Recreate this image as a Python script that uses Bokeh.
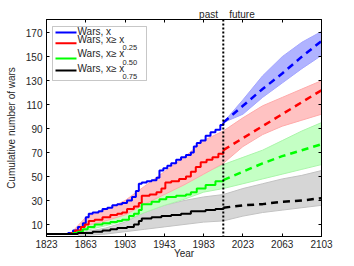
from bokeh.plotting import figure
from bokeh.models import Range1d, FixedTicker, LinearAxis, Span, Label, BoxAnnotation
from bokeh.embed import file_html
from bokeh.resources import INLINE

# ---------------- data ----------------
x_ticks = [1823, 1863, 1903, 1943, 1983, 2023, 2063, 2103]
y_ticks = [10, 30, 50, 70, 90, 110, 130, 150, 170]
split_year = 2003
era_labels = {1988: "past", 2022: "future"}

# observed cumulative counts (step curves, past)
blue_years = [1823, 1845, 1850, 1855, 1860, 1863, 1866, 1870, 1876, 1880, 1885, 1890, 1895,
              1900, 1905, 1910, 1914, 1917, 1920, 1925, 1930, 1935, 1938, 1942, 1946, 1950,
              1955, 1960, 1965, 1970, 1973, 1976, 1980, 1985, 1990, 1995, 2000, 2003]
blue_vals = [2, 3, 5, 8, 11, 16, 19, 20, 21, 23, 24, 26, 27, 28, 30, 33, 38, 44, 45, 46, 47,
             49, 55, 57, 59, 61, 64, 66, 68, 70, 75, 78, 80, 84, 87, 89, 93, 95]

red_years = [1823, 1848, 1852, 1858, 1862, 1866, 1872, 1880, 1888, 1895, 1900, 1905, 1912,
             1917, 1920, 1928, 1935, 1940, 1944, 1950, 1958, 1965, 1970, 1975, 1980, 1986,
             1992, 1998, 2003]
red_vals = [2, 3, 5, 8, 10, 13, 14, 16, 18, 19, 20, 23, 25, 28, 34, 35, 37, 40, 45, 46, 48,
            50, 54, 58, 62, 64, 66, 69, 72]

green_years = [1823, 1850, 1855, 1860, 1865, 1872, 1880, 1888, 1895, 1900, 1907, 1912, 1917,
               1920, 1930, 1938, 1945, 1955, 1965, 1970, 1976, 1985, 1995, 2003]
green_vals = [2, 3, 4, 6, 8, 10, 11, 12, 13, 14, 17, 19, 22, 27, 29, 31, 33, 34, 35, 37, 40,
              43, 46, 47]

black_years = [1823, 1855, 1862, 1870, 1880, 1888, 1895, 1905, 1912, 1917, 1920, 1930, 1940,
               1950, 1960, 1970, 1985, 1995, 2003]
black_vals = [2, 3, 3, 4, 5, 6, 7, 8, 10, 13, 15, 16, 17, 18, 19, 21, 22, 23, 24]

# projected means (dashed, future)
proj_years = [2003, 2023, 2043, 2063, 2083, 2103]
blue_proj = [95, 109, 123, 136, 150, 163]
red_proj = [72, 82, 92, 102, 112, 122]
green_proj = [47, 54, 61, 67, 72, 77]
black_proj = [24, 26, 27, 29, 30, 32]

# envelopes of the simulated trajectories
blue_env_years = [2003, 2023, 2043, 2063, 2083, 2103]
blue_env_lo = [95, 102, 116, 128, 140, 151]
blue_env_hi = [95, 114, 134, 150, 162, 171]

red_env_years = [1848, 1863, 1883, 1903, 1923, 1943, 1963, 1983, 2003, 2023, 2043, 2063, 2083, 2103]
red_env_lo = [2, 9, 13, 18, 27, 35, 43, 52, 61, 75, 85, 92, 97, 102]
red_env_hi = [3, 16, 22, 30, 42, 54, 66, 80, 88, 99, 109, 116, 123, 130]

green_env_years = [1850, 1863, 1883, 1903, 1923, 1943, 1963, 1983, 2003, 2023, 2043, 2063, 2083, 2103]
green_env_lo = [2, 5, 9, 13, 20, 26, 31, 37, 40, 44, 48, 52, 56, 60]
green_env_hi = [3, 10, 14, 21, 31, 37, 44, 53, 60, 66, 72, 80, 88, 95]

grey_env_years = [1855, 1863, 1883, 1903, 1923, 1943, 1963, 1983, 2003, 2023, 2043, 2063, 2083, 2103]
grey_env_lo = [1, 1, 2, 4, 6, 8, 10, 12, 13, 17, 20, 22, 24, 26]
grey_env_hi = [3, 4, 7, 12, 20, 26, 30, 33, 35, 40, 44, 48, 51, 55]

legend_labels = ["Wars, x", "Wars, x\u2265 x", "Wars, x\u2265 x", "Wars, x\u2265 x"]
legend_subs = ["", "0.25", "0.50", "0.75"]
legend_colors = ["#0000ff", "#ff0000", "#00ff00", "#000000"]

FONT = "Liberation Sans"
TXT = "#262626"

p = figure(width=354, height=266, output_backend="svg", toolbar_location=None,
           x_range=Range1d(1823, 2103), y_range=Range1d(0, 181),
           min_border_left=46, min_border_right=33, min_border_top=19, min_border_bottom=30)
p.xgrid.visible = False
p.ygrid.visible = False
p.outline_line_color = "black"
p.outline_line_width = 1
p.background_fill_color = "white"
p.border_fill_color = "white"

for ax, ticks in ((p.xaxis[0], x_ticks), (p.yaxis[0], y_ticks)):
    ax.ticker = FixedTicker(ticks=ticks)
    ax.major_tick_in = 3
    ax.major_tick_out = 0
    ax.minor_tick_line_color = None
    ax.axis_line_color = "black"
    ax.major_tick_line_color = "black"
    ax.major_label_text_font = FONT
    ax.major_label_text_font_size = "10px"
    ax.major_label_text_color = TXT
    ax.axis_label_text_font = FONT
    ax.axis_label_text_font_size = "10px"
    ax.axis_label_text_font_style = "normal"
    ax.axis_label_text_color = TXT

p.xaxis[0].axis_label = "Year"
p.xaxis[0].major_label_standoff = 3
p.xaxis[0].axis_label_standoff = -3
p.yaxis[0].axis_label = "Cumulative number of wars"
p.yaxis[0].major_label_standoff = 4
p.yaxis[0].axis_label_standoff = 6

# top axis: ticks at x_ticks (as minor ticks), "past"/"future" as the only labels
top = LinearAxis(ticker=FixedTicker(ticks=list(era_labels.keys()), minor_ticks=x_ticks))
top.major_label_overrides = dict(era_labels)
top.major_tick_line_color = None
top.major_tick_in = 0
top.major_tick_out = 0
top.minor_tick_in = 3
top.minor_tick_out = 0
top.minor_tick_line_color = "black"
top.axis_line_color = "black"
top.major_label_standoff = 0
top.major_label_text_font = FONT
top.major_label_text_font_size = "10px"
top.major_label_text_color = TXT
p.add_layout(top, "above")

# right axis: ticks only
right = LinearAxis(ticker=FixedTicker(ticks=[], minor_ticks=y_ticks))
right.minor_tick_in = 3
right.minor_tick_out = 0
right.minor_tick_line_color = "black"
right.major_tick_line_color = None
right.axis_line_color = "black"
right.major_label_standoff = 0
p.add_layout(right, "right")

# bands of simulated trajectories
bands = [
    (grey_env_years, grey_env_lo, grey_env_hi, "#d6d6d6", "#c2c2c2"),
    (green_env_years, green_env_lo, green_env_hi, "#c4ffc4", "#aaf5aa"),
    (red_env_years, red_env_lo, red_env_hi, "#ffc2c2", "#ffaaaa"),
    (blue_env_years, blue_env_lo, blue_env_hi, "#b0b3ff", "#a4a6ff"),
]
for yrs, lo, hi, fc, lc in bands:
    p.varea(x=yrs, y1=lo, y2=hi, fill_color=fc)
    p.line(yrs, lo, line_color=lc, line_width=1)
    p.line(yrs, hi, line_color=lc, line_width=1)

# observed step curves
for yrs, vals, col in ((blue_years, blue_vals, "#0000ff"), (red_years, red_vals, "#ff0000"),
                       (green_years, green_vals, "#00ff00"), (black_years, black_vals, "#000000")):
    p.step(yrs, vals, mode="after", line_color=col, line_width=2)

# projections
for vals, col in ((blue_proj, "#0000ff"), (red_proj, "#ff0000"),
                  (green_proj, "#00ff00"), (black_proj, "#000000")):
    p.line(proj_years, vals, line_color=col, line_width=2.5, line_dash="7 5")

p.add_layout(Span(location=split_year, dimension="height", line_color="black",
                  line_width=2, line_dash="2 2"))

# legend (manual, screen units measured up from the frame bottom)
FH = 217  # frame height in px
p.add_layout(BoxAnnotation(left=6, right=100, top=FH - 7, bottom=FH - 61,
                           left_units="screen", right_units="screen",
                           top_units="screen", bottom_units="screen",
                           fill_color="white", fill_alpha=1.0,
                           line_color="#444444", line_width=1, level="overlay"))
sw_off = [13, 23.7, 39, 51]
tx_off = [12, 20.3, 34.3, 49.3]
sub_off = [0, 27.7, 43, 57]
for i in range(4):
    p.add_layout(BoxAnnotation(left=9, right=30, top=FH - sw_off[i] + 1, bottom=FH - sw_off[i] - 1,
                               left_units="screen", right_units="screen",
                               top_units="screen", bottom_units="screen",
                               fill_color=legend_colors[i], fill_alpha=1.0,
                               line_color=None, level="overlay"))
    p.add_layout(Label(x=31, y=FH - tx_off[i], x_units="screen", y_units="screen",
                       text=legend_labels[i], text_align="left", text_baseline="middle",
                       text_font=FONT, text_font_size="10px", text_color=TXT, level="overlay"))
    if legend_subs[i]:
        p.add_layout(Label(x=76, y=FH - sub_off[i], x_units="screen", y_units="screen",
                           text=legend_subs[i], text_align="left", text_baseline="middle",
                           text_font=FONT, text_font_size="7.5px", text_color=TXT,
                           level="overlay"))

open("out.html", "w").write(file_html(p, INLINE))
